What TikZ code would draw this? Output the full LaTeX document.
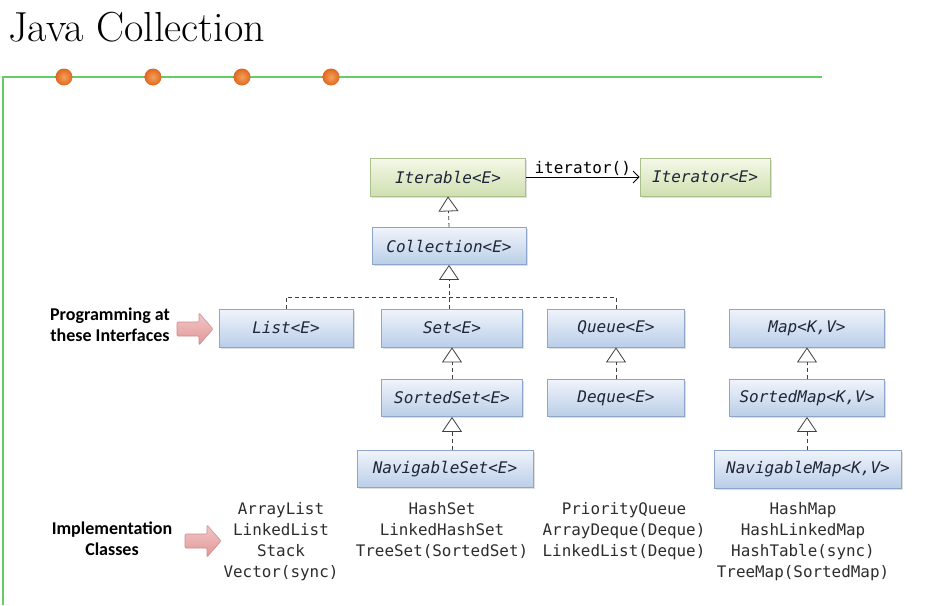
\documentclass[tikz,border=0pt]{standalone}
\usepackage{fontspec}
\setmonofont{DejaVu Sans Mono}
\newfontfamily\calfont{Carlito}
\usetikzlibrary{arrows.meta,shadows}
\definecolor{frameg}{RGB}{100,205,100}
\definecolor{dotor}{RGB}{222,104,32}
\definecolor{dotlt}{RGB}{245,160,90}
\definecolor{bluetop}{RGB}{240,244,251}
\definecolor{bluebot}{RGB}{186,206,232}
\definecolor{blueln}{RGB}{140,165,200}
\definecolor{greentop}{RGB}{245,248,232}
\definecolor{greenbot}{RGB}{208,224,176}
\definecolor{greenln}{RGB}{170,192,140}
\definecolor{pinktop}{RGB}{252,232,232}
\definecolor{pinkbot}{RGB}{226,150,150}
\definecolor{pinkln}{RGB}{205,140,140}
\definecolor{txt}{RGB}{30,38,55}
\definecolor{impl}{RGB}{45,45,45}
\tikzset{
  ibox/.style={draw=blueln, line width=0.8pt, top color=bluetop, bottom color=bluebot,
    text=txt, font=\fontsize{16}{18}\selectfont\ttfamily\itshape, inner sep=0pt,
    drop shadow={opacity=0.25, shadow xshift=1.5pt, shadow yshift=-1.5pt}},
  gbox/.style={ibox, draw=greenln, top color=greentop, bottom color=greenbot},
  inh/.style={dash pattern=on 4pt off 3pt, line width=0.8pt, draw=black!75,
    -{Triangle[open, length=15pt, width=20pt, line width=0.8pt]}},
  dline/.style={dash pattern=on 4pt off 3pt, line width=0.8pt, draw=black!75},
  impltxt/.style={align=center, anchor=north, text=impl, inner sep=0pt,
    font=\fontsize{15.9}{21}\selectfont\ttfamily},
  lbl/.style={align=center, text=black, inner sep=0pt, font=\calfont\bfseries\fontsize{18}{21}\selectfont},
  parrow/.pic={\draw[draw=pinkln, line width=0.6pt, rounded corners=1pt,
      top color=pinktop!60!pinkbot, middle color=pinktop, bottom color=pinkbot]
      (0,-7) -- (22,-7) -- (22,-16) -- (36,0) -- (22,16) -- (22,7) -- (0,7) -- cycle;},
  dot/.style={circle, inner sep=0pt, minimum size=17pt, inner color=dotlt, outer color=dotor}
}
\begin{document}
\begin{tikzpicture}[x=1pt,y=-1pt]
\useasboundingbox (0,0) rectangle (947,605);
\fill[white] (0,0) rectangle (947,605);
% title
\node[anchor=base west, inner sep=0pt, font=\fontsize{42}{48}\selectfont] (title) at (8,41) {Java Collection};
% frame line
\coordinate (fl) at (3,605);
\coordinate (fc) at (3,77);
\coordinate (fr) at (822,77);
\draw[frameg, line width=1.4pt] (fl) -- (fc) -- (fr);
\foreach \i/\x in {1/64,2/153,3/242,4/331} \node[dot] (dot\i) at (\x,77) {};
% boxes
\node[gbox, minimum width=155pt, minimum height=38pt] (iterable) at (448,177) {Iterable<E>};
\node[gbox, minimum width=130pt, minimum height=38pt] (iterator) at (705,177) {Iterator<E>};
\node[ibox, minimum width=154pt, minimum height=37pt] (coll) at (449,246) {Collection<E>};
\node[ibox, minimum width=134pt, minimum height=38pt] (list) at (286,328) {List<E>};
\node[ibox, minimum width=141pt, minimum height=38pt] (set) at (452,328) {Set<E>};
\node[ibox, minimum width=137pt, minimum height=38pt] (queue) at (616,328) {Queue<E>};
\node[ibox, minimum width=155pt, minimum height=38pt] (map) at (807,328) {Map<K,V>};
\node[ibox, minimum width=141pt, minimum height=37pt] (sset) at (452,398) {SortedSet<E>};
\node[ibox, minimum width=137pt, minimum height=37pt] (deque) at (616,398) {Deque<E>};
\node[ibox, minimum width=155pt, minimum height=37pt] (smap) at (807,398) {SortedMap<K,V>};
\node[ibox, minimum width=176pt, minimum height=37pt] (nset) at (445,469) {NavigableSet<E>};
\node[ibox, minimum width=187pt, minimum height=38pt] (nmap) at (808,469) {NavigableMap<K,V>};
% iterator arrow
\draw[line width=0.8pt, -{Straight Barb[length=6pt, width=12pt]}] (iterable) -- node[above=1pt, inner sep=0pt, font=\fontsize{16}{18}\selectfont\ttfamily] (itlabel) {iterator()} (iterator);
% inheritance
\draw[inh] (coll.north) -- (iterable.south);
\coordinate (jl) at (list.north |- 0,297);
\coordinate (jq) at (queue.north |- 0,297);
\coordinate (js) at (coll.south |- set.north);
\draw[inh] (js) -- (coll.south);
\draw[dline] (list.north) -- (jl) -- (jq) -- (queue.north);
\draw[inh] (sset.north) -- (set.south);
\draw[inh] (nset.north -| sset.south) -- (sset.south);
\draw[inh] (deque.north) -- (queue.south);
\draw[inh] (smap.north) -- (map.south);
\draw[inh] (nmap.north -| smap.south) -- (smap.south);
% labels and arrows
\node[lbl] (prog) at (110,325) {Programming at\\these Interfaces};
\pic (parr1) at (177,329) {parrow};
\node[lbl] (implc) at (112,539) {Implementation\\Classes};
\pic (parr2) at (185,541) {parrow};
% implementation columns
\node[impltxt] (ilist) at (281,502) {ArrayList\\LinkedList\\Stack\\Vector(sync)};
\node[impltxt] (iset) at (442,502) {HashSet\\LinkedHashSet\\TreeSet(SortedSet)};
\node[impltxt] (iqueue) at (624,502) {PriorityQueue\\ArrayDeque(Deque)\\LinkedList(Deque)};
\node[impltxt] (imap) at (803,502) {HashMap\\HashLinkedMap\\HashTable(sync)\\TreeMap(SortedMap)};
\end{tikzpicture}
\end{document}
